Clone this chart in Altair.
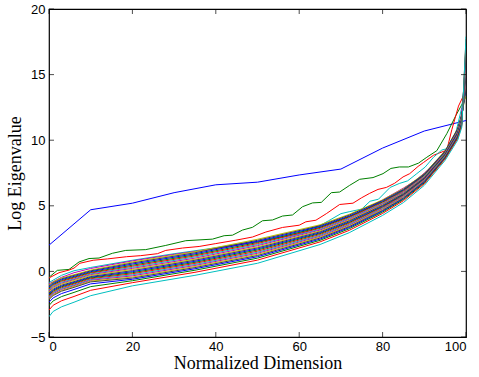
import altair as alt
import pandas as pd

# ---- data ----
blue_x = [0, 10, 20, 30, 40, 50, 60, 70, 80, 90, 100]
blue_y = [2.0, 4.7, 5.2, 6.0, 6.6, 6.8, 7.35, 7.8, 9.4, 10.7, 11.5]

green_x = [0, 2.0, 4.8, 7.2, 9.6, 12, 15.2, 18.4, 23.2, 28, 32.8, 39.2, 42, 44, 46.4, 48.8,
           51.2, 53.6, 56, 58.4, 60.8, 63.2, 65.3, 67.7, 69.7, 72.1, 74.5, 77.7, 80.1,
           82, 84, 86.2, 88.6, 90.6, 93, 95.4, 97.6, 100]
green_y = [-0.45, 0.08, 0.15, 0.72, 0.98, 1.02, 1.38, 1.6, 1.66, 1.98, 2.34, 2.46, 2.72, 2.76,
           3.15, 3.36, 3.86, 3.92, 4.22, 4.3, 4.93, 5.22, 5.26, 6.0, 6.05, 6.56, 7.02, 7.15,
           7.45, 7.85, 7.96, 7.96, 8.25, 8.7, 9.2, 10.5, 11.9, 13.3]

red_x = [0, 2.4, 4.8, 6, 7.4, 10.6, 14, 18.6, 22, 26, 28, 32, 36, 40, 44.8, 48.8, 52, 56,
         60, 61.6, 64, 66.5, 69.7, 72.9, 74.9, 76.9, 78.9, 80.9, 82.9, 84.9, 86.5, 88.5,
         89.8, 92.2, 95.4, 96.6, 98.2, 100]
red_y = [-0.5, -0.1, 0.1, 0.25, 0.62, 0.85, 0.95, 1.12, 1.2, 1.35, 1.6, 1.78, 1.9, 2.12,
         2.38, 2.62, 3.0, 3.35, 3.52, 3.78, 3.9, 4.4, 5.1, 5.2, 5.6, 5.95, 6.25, 6.4, 6.72,
         7.2, 7.45, 8.0, 8.3, 8.85, 9.25, 10.8, 12.6, 13.8]

cyan_x = [0, 3, 6, 10, 20, 30, 40, 50, 55, 60, 65, 67, 70, 72, 75, 77, 79, 81.8, 84, 86,
          88.2, 90.2, 92.2, 94.2, 96, 97.5, 99, 100]
cyan_y = [-0.85, -0.3, 0.05, 0.3, 0.85, 1.35, 1.8, 2.3, 2.6, 2.95, 3.5, 3.85, 4.4, 4.55,
          4.75, 5.35, 5.5, 6.4, 6.7, 6.9, 7.45, 7.95, 8.7, 9.25, 9.4, 10.5, 12.5, 15.5]

magenta_x = [0, 3, 6, 10, 20, 30, 40, 50, 60, 65, 70, 75, 80, 85, 88, 90, 93, 95, 97, 98.5, 100]
magenta_y = [-0.95, -0.45, -0.1, 0.22, 0.8, 1.3, 1.75, 2.25, 2.85, 3.35, 3.95, 4.55, 5.45,
             6.35, 6.95, 7.5, 8.3, 8.95, 9.7, 11.0, 14.8]

# smooth curves forming the dense band (one list per curve, top to bottom)
band_x = [0, 1, 3, 6, 10, 20, 35, 50, 65, 72, 80, 85, 90, 95, 98, 99, 100]
band01 = [-1.05, -0.80, -0.50, -0.25, 0.10, 0.72, 1.50, 2.45, 3.55, 4.35, 5.45, 6.30, 7.45, 9.20, 10.90, 12.00, 13.6]
band02 = [-1.12, -0.87, -0.57, -0.31, 0.04, 0.64, 1.42, 2.37, 3.48, 4.29, 5.40, 6.25, 7.41, 9.17, 10.86, 11.96, 13.8]
band03 = [-1.19, -0.94, -0.63, -0.38, -0.02, 0.56, 1.34, 2.29, 3.42, 4.22, 5.34, 6.21, 7.37, 9.13, 10.82, 11.91, 14.0]
band04 = [-1.27, -1.00, -0.70, -0.44, -0.08, 0.47, 1.26, 2.20, 3.35, 4.16, 5.29, 6.16, 7.33, 9.10, 10.78, 11.87, 14.2]
band05 = [-1.34, -1.07, -0.76, -0.50, -0.13, 0.39, 1.18, 2.12, 3.28, 4.10, 5.24, 6.11, 7.29, 9.07, 10.74, 11.82, 14.4]
band06 = [-1.41, -1.14, -0.83, -0.57, -0.19, 0.31, 1.10, 2.04, 3.21, 4.04, 5.18, 6.06, 7.25, 9.04, 10.70, 11.78, 14.6]
band07 = [-1.48, -1.21, -0.90, -0.63, -0.25, 0.23, 1.01, 1.96, 3.15, 3.97, 5.13, 6.02, 7.21, 9.00, 10.66, 11.73, 14.8]
band08 = [-1.55, -1.27, -0.96, -0.69, -0.31, 0.15, 0.93, 1.87, 3.08, 3.91, 5.08, 5.97, 7.17, 8.97, 10.62, 11.69, 15.0]
band09 = [-1.65, -1.36, -1.05, -0.78, -0.39, 0.06, 0.85, 1.79, 3.01, 3.85, 5.03, 5.92, 7.13, 8.94, 10.58, 11.64, 15.2]
band10 = [-1.72, -1.43, -1.12, -0.84, -0.45, -0.02, 0.77, 1.71, 2.94, 3.78, 4.97, 5.87, 7.09, 8.90, 10.54, 11.60, 15.4]
band11 = [-1.79, -1.50, -1.18, -0.90, -0.50, -0.10, 0.69, 1.63, 2.88, 3.72, 4.92, 5.83, 7.05, 8.87, 10.49, 11.55, 15.6]
band12 = [-1.87, -1.57, -1.25, -0.96, -0.56, -0.18, 0.61, 1.54, 2.81, 3.66, 4.87, 5.78, 7.01, 8.84, 10.45, 11.51, 15.8]
band13 = [-1.94, -1.63, -1.31, -1.03, -0.62, -0.26, 0.53, 1.46, 2.74, 3.59, 4.81, 5.73, 6.97, 8.81, 10.41, 11.46, 16.0]
band14 = [-2.01, -1.70, -1.38, -1.09, -0.68, -0.34, 0.45, 1.38, 2.67, 3.53, 4.76, 5.69, 6.93, 8.77, 10.37, 11.42, 16.2]
band15 = [-2.08, -1.77, -1.45, -1.15, -0.74, -0.43, 0.37, 1.30, 2.61, 3.47, 4.71, 5.64, 6.89, 8.74, 10.33, 11.37, 16.5]
band16 = [-2.15, -1.84, -1.51, -1.22, -0.80, -0.51, 0.29, 1.21, 2.54, 3.41, 4.65, 5.59, 6.85, 8.71, 10.29, 11.33, 16.8]
band17 = [-2.35, -2.02, -1.69, -1.38, -0.95, -0.60, 0.20, 1.12, 2.46, 3.34, 4.59, 5.54, 6.81, 8.67, 10.25, 11.28, 17.1]
band18 = [-2.60, -2.25, -1.92, -1.60, -1.16, -0.71, 0.09, 1.01, 2.37, 3.25, 4.52, 5.48, 6.75, 8.63, 10.19, 11.22, 17.4]
band19 = [-2.95, -2.58, -2.24, -1.91, -1.44, -0.86, -0.07, 0.86, 2.25, 3.13, 4.42, 5.39, 6.68, 8.57, 10.12, 11.13, 17.7]
band20 = [-3.45, -3.05, -2.70, -2.35, -1.85, -1.10, -0.30, 0.62, 2.05, 2.95, 4.27, 5.25, 6.56, 8.47, 10.00, 11.00, 17.9]

x_ticks = [0, 20, 40, 60, 80, 100]
y_ticks = [-5, 0, 5, 10, 15, 20]

# MATLAB classic colour order
color_cycle = ["#0000ff", "#008000", "#ff0000", "#00bfbf", "#bf00bf", "#bfbf00", "#404040"]

SANS = "Arial, Helvetica, 'Liberation Sans', sans-serif"
SERIF = "'Times New Roman', Times, 'Liberation Serif', serif"

# ---- build long table ----
series = [(blue_x, blue_y), (green_x, green_y), (red_x, red_y), (cyan_x, cyan_y),
          (magenta_x, magenta_y)]
for b in [band01, band02, band03, band04, band05, band06, band07, band08, band09, band10,
          band11, band12, band13, band14, band15, band16, band17, band18, band19, band20]:
    series.append((band_x, b))

rows = []
names = []
for i, (xs, ys) in enumerate(series):
    name = f"L{i + 1:02d}"
    names.append(name)
    for j, (xv, yv) in enumerate(zip(xs, ys)):
        rows.append({"line": name, "x": xv, "y": yv, "o": j})
df = pd.DataFrame(rows)
colors = [color_cycle[i % 7] for i in range(len(names))]

xscale = alt.Scale(domain=[0, 100], nice=False, zero=False)
yscale = alt.Scale(domain=[-5, 20], nice=False, zero=False)

lines = alt.Chart(df).mark_line(strokeWidth=1, clip=True).encode(
    x=alt.X("x:Q", scale=xscale,
            axis=alt.Axis(title="Normalized Dimension", values=x_ticks, ticks=False,
                          domain=False, grid=False, labelFont=SANS,
                          labelFontSize=13, labelColor="black", labelPadding=3,
                          titleFont=SERIF, titleFontSize=18,
                          titleFontWeight="normal", titleColor="black", titlePadding=1)),
    y=alt.Y("y:Q", scale=yscale,
            axis=alt.Axis(title="Log Eigenvalue", values=y_ticks, ticks=False,
                          domain=False, grid=False, labelFont=SANS,
                          labelFontSize=13, labelColor="black", labelPadding=4,
                          titleFont=SERIF, titleFontSize=18,
                          titleFontWeight="normal", titleColor="black", titlePadding=6)),
    color=alt.Color("line:N", scale=alt.Scale(domain=names, range=colors), legend=None),
    order=alt.Order("o:Q"),
)

xt = pd.DataFrame({"v": x_ticks})
yt = pd.DataFrame({"v": y_ticks})
tick_len = 5
bottom_ticks = alt.Chart(xt).mark_tick(orient="vertical", size=tick_len, thickness=1,
                                       color="black", yOffset=-tick_len / 2).encode(
    x=alt.X("v:Q", scale=xscale), y=alt.datum(-5))
top_ticks = alt.Chart(xt).mark_tick(orient="vertical", size=tick_len, thickness=1,
                                    color="black", yOffset=tick_len / 2).encode(
    x=alt.X("v:Q", scale=xscale), y=alt.datum(20))
left_ticks = alt.Chart(yt).mark_tick(orient="horizontal", size=tick_len, thickness=1,
                                     color="black", xOffset=tick_len / 2).encode(
    y=alt.Y("v:Q", scale=yscale), x=alt.datum(0))
right_ticks = alt.Chart(yt).mark_tick(orient="horizontal", size=tick_len, thickness=1,
                                      color="black", xOffset=-tick_len / 2).encode(
    y=alt.Y("v:Q", scale=yscale), x=alt.datum(100))

chart = alt.layer(lines, bottom_ticks, top_ticks, left_ticks, right_ticks).properties(
    width=417, height=328,
    autosize=alt.AutoSizeParams(type="none"),
    padding={"left": 49, "top": 9, "right": 13, "bottom": 40},
    background="white",
).configure_view(stroke="black", strokeWidth=1.2)

chart.save("out.html", embed_options={"renderer": "svg", "actions": False})
